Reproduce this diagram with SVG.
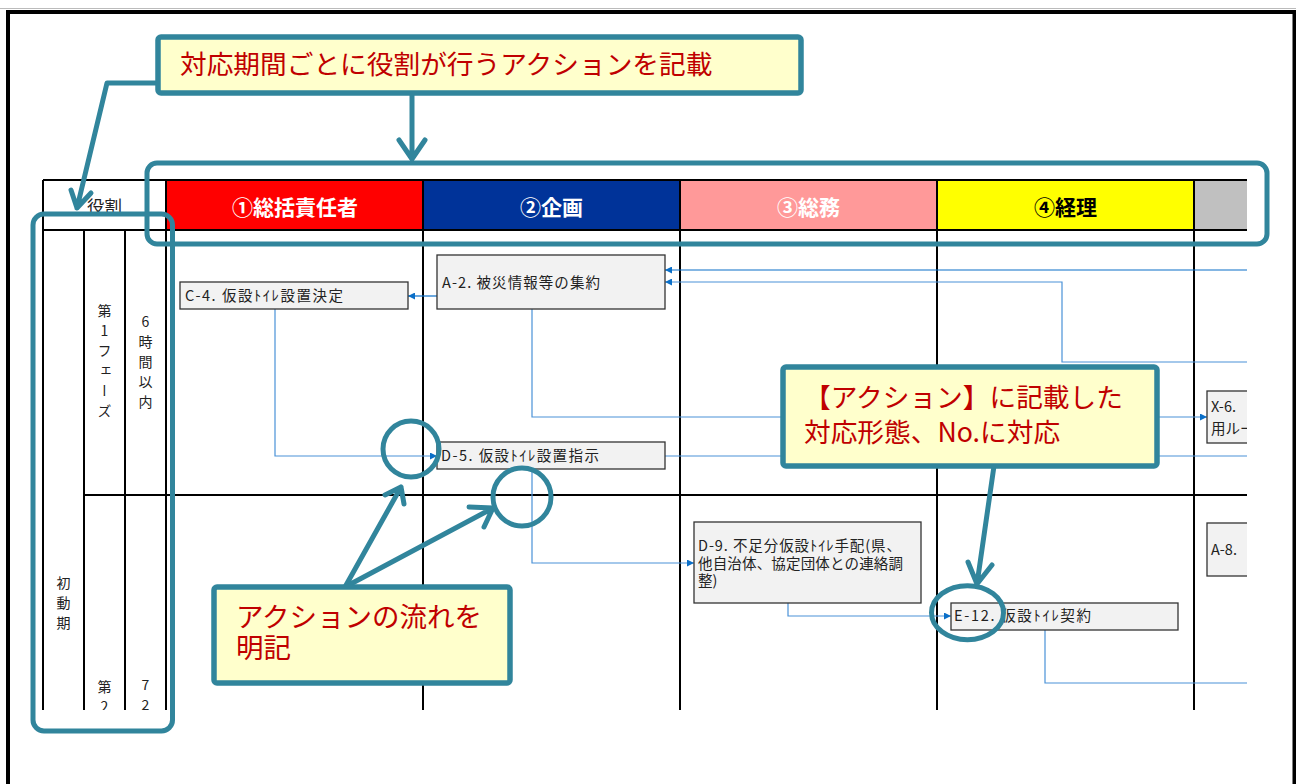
<svg xmlns="http://www.w3.org/2000/svg" width="1296" height="784" viewBox="0 0 1296 784">
<style>
.grid{stroke:#000;stroke-width:2;fill:none}
.hdr{font-family:"Noto Sans CJK JP","Noto Sans",sans-serif;font-weight:bold;font-size:21px;text-anchor:middle}
.lbl{font-family:"Noto Sans CJK JP","Noto Sans",sans-serif;font-size:14px;fill:#222}
.vt{writing-mode:vertical-rl;text-orientation:upright;letter-spacing:6px}
.box{fill:#f2f2f2;stroke:#333;stroke-width:1.3}
.bt{font-family:"Noto Sans CJK JP","Noto Sans",sans-serif;font-size:14.5px;fill:#222}
.cn{fill:none;stroke:#4a92d8;stroke-width:1.2}
.cnd{stroke:#0a6fc8}
.teal{fill:none;stroke:#31859c;stroke-width:5;stroke-linecap:round;stroke-linejoin:round}
.call{fill:#ffffcc;stroke:#31859c;stroke-width:5.5}
.ct{font-family:"Noto Sans CJK JP","Noto Sans",sans-serif;font-size:26.7px;fill:#c00000}
</style>
<defs>
<marker id="ah" viewBox="0 0 10 10" refX="10" refY="5" markerWidth="7" markerHeight="7" markerUnits="userSpaceOnUse" orient="auto"><path d="M0,0 L10,5 L0,10 z" fill="#0a6fc8"/></marker>
<clipPath id="tbl"><rect x="0" y="0" width="1247" height="710"/></clipPath>
</defs>
<rect width="1296" height="784" fill="#fff"/>
<line x1="0" y1="8.5" x2="1296" y2="8.5" stroke="#bbb" stroke-width="1"/>
<path d="M8,784 V12 H1294.5 V784" fill="none" stroke="#000" stroke-width="4"/>

<g id="table" clip-path="url(#tbl)">
  <rect x="167" y="180" width="256" height="50" fill="#ff0000"/>
  <rect x="423" y="180" width="257" height="50" fill="#003399"/>
  <rect x="680" y="180" width="257" height="50" fill="#ff9999"/>
  <rect x="937" y="180" width="257" height="50" fill="#ffff00"/>
  <rect x="1194" y="180" width="60" height="50" fill="#c0c0c0"/>
  <path class="grid" d="M43,180 H1250 M43,230 H1250 M84,495 H1250 M43,180 V712 M84,230 V712 M125,230 V712 M166,180 V712 M423,180 V712 M680,180 V712 M937,180 V712 M1194,180 V712"/>
  <text class="hdr" x="295" y="215" fill="#fff">①総括責任者</text>
  <text class="hdr" x="551.5" y="215" fill="#fff">②企画</text>
  <text class="hdr" x="808.5" y="215" fill="#fff">③総務</text>
  <text class="hdr" x="1065.5" y="215" fill="#000">④経理</text>
  <text class="lbl" x="104.5" y="213" style="font-size:17.5px" text-anchor="middle">役割</text>
  <text class="lbl vt" x="104.5" y="304">第1フェーズ</text>
  <text class="lbl vt" x="145.5" y="315">6時間以内</text>
  <text class="lbl vt" x="63.5" y="576">初動期</text>
  <text class="lbl vt" x="104.5" y="680">第2</text>
  <text class="lbl vt" x="145.5" y="678">72</text>
</g>

<g id="connectors" clip-path="url(#tbl)">
  <path class="cn cnd" d="M437,296 H408" marker-end="url(#ah)"/>
  <path class="cn" d="M275,309 V456 H437" marker-end="url(#ah)"/>
  <path class="cn" d="M532,309 V417 H1207" marker-end="url(#ah)"/>
  <path class="cn" d="M665,456 H1250"/>
  <path class="cn" d="M532,469 V563 H694" marker-end="url(#ah)"/>
  <path class="cn" d="M788,603 V616 H951" marker-end="url(#ah)"/>
  <path class="cn" d="M1045,630 V683 H1250"/>
  <path class="cn cnd" d="M1250,270 H665" marker-end="url(#ah)"/>
  <path class="cn" d="M1250,362 H1062 V282 H665" marker-end="url(#ah)"/>
</g>

<g id="nodes" clip-path="url(#tbl)">
  <g id="node-c4"><rect class="box" x="180" y="282" width="228" height="27"/><text class="bt" x="185" y="301" textLength="158" lengthAdjust="spacing">C-4. 仮設ﾄｲﾚ設置決定</text></g>
  <g id="node-a2"><rect class="box" x="437" y="255" width="228" height="54"/><text class="bt" x="442" y="287.5" textLength="158" lengthAdjust="spacing">A-2. 被災情報等の集約</text></g>
  <g id="node-d5"><rect class="box" x="437" y="442" width="228" height="27"/><text class="bt" x="441" y="460.5" textLength="158" lengthAdjust="spacing">D-5. 仮設ﾄｲﾚ設置指示</text></g>
  <g id="node-d9"><rect class="box" x="694" y="522" width="227" height="81"/>
    <text class="bt" x="698" y="550.5"><tspan x="698" y="550.5" textLength="203" lengthAdjust="spacing">D-9. 不足分仮設ﾄｲﾚ手配(県、</tspan><tspan x="698" y="568.5" textLength="205" lengthAdjust="spacing">他自治体、協定団体との連絡調</tspan><tspan x="698" y="586">整)</tspan></text></g>
  <g id="node-e12"><rect class="box" x="951" y="603" width="227" height="27"/><text class="bt" x="954" y="621" textLength="137" lengthAdjust="spacing">E-12. 仮設ﾄｲﾚ契約</text></g>
  <g id="node-x6"><rect class="box" x="1207" y="391" width="80" height="52"/><text class="bt" x="1211" y="412"><tspan x="1211" y="412">X-6.</tspan><tspan x="1211" y="433.5">用ルー</tspan></text></g>
  <g id="node-a8"><rect class="box" x="1207" y="523" width="80" height="53"/><text class="bt" x="1211" y="554.5">A-8.</text></g>
</g>

<g id="annotations">
  <rect class="teal" x="147" y="163" width="1120" height="81" rx="10"/>
  <rect class="teal" x="33" y="214" width="139.5" height="517" rx="11"/>
  <circle class="teal" cx="411" cy="449" r="28"/>
  <circle class="teal" cx="522" cy="497" r="29"/>
  <ellipse class="teal" cx="967.5" cy="612.7" rx="36" ry="27"/>

  <path class="teal" d="M158,83 H107 L77,208 M71,190 L77,208 L91,193"/>
  <path class="teal" d="M412,93 V159 M399,140 L412,159 L425,140"/>
  <g id="callout-1"><rect class="call" x="158" y="37" width="643" height="56" rx="3"/><text class="ct" x="180" y="74">対応期間ごとに役割が行うアクションを記載</text></g>

  <path class="teal" d="M994,466 L977,584 M968,562 L977,584 L992,565"/>
  <g id="callout-2"><rect class="call" x="783" y="367" width="374" height="99" rx="3"/>
    <text class="ct" x="804" y="407"><tspan x="804" y="407">【アクション】に記載した</tspan><tspan x="804" y="442">対応形態、No.に対応</tspan></text></g>

  <path class="teal" d="M345,587 L401,487 M385,495 L401,487 L404,504 M345,587 L493,508 M469,507 L493,508 L484,527"/>
  <g id="callout-3"><rect class="call" x="214" y="587" width="296" height="96" rx="3"/>
    <text class="ct" x="236" y="627" style="font-size:27.5px"><tspan x="236" y="627">アクションの流れを</tspan><tspan x="236" y="658">明記</tspan></text></g>
</g>
</svg>
